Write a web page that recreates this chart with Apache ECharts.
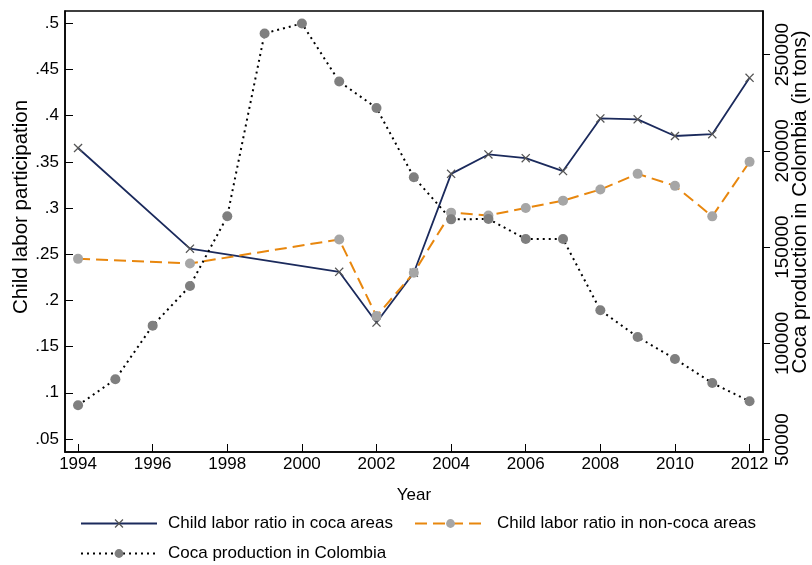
<!DOCTYPE html>
<html>
<head>
<meta charset="utf-8">
<script src="https://cdn.jsdelivr.net/npm/echarts@6/dist/echarts.min.js"></script>
<style>
  html, body { margin: 0; padding: 0; background: #fff; }
  #chart { width: 812px; height: 565px; }
</style>
</head>
<body>
<div id="chart"></div>
<script>
// Survey years with child labor estimates
const surveyYears = [1994, 1997, 2001, 2002, 2003, 2004, 2005, 2006, 2007, 2008, 2009, 2010, 2011, 2012];
const laborCocaAreas = [0.365, 0.256, 0.231, 0.176, 0.230, 0.337, 0.358, 0.354, 0.340, 0.397, 0.396, 0.378, 0.380, 0.441];
const laborNonCocaAreas = [0.245, 0.240, 0.266, 0.183, 0.230, 0.295, 0.292, 0.300, 0.308, 0.320, 0.337, 0.324, 0.291, 0.350];

// Annual coca production (tons)
const productionYears = [1994, 1995, 1996, 1997, 1998, 1999, 2000, 2001, 2002, 2003, 2004, 2005, 2006, 2007, 2008, 2009, 2010, 2011, 2012];
const cocaTons = [67800, 81300, 109200, 129800, 166000, 261000, 266200, 236000, 222300, 186300, 164400, 164600, 154200, 154200, 117200, 103300, 91900, 79400, 69900];

// Tick positions
const yearTicks = [1994, 1996, 1998, 2000, 2002, 2004, 2006, 2008, 2010, 2012];
const shareTicks = [0.05, 0.1, 0.15, 0.2, 0.25, 0.3, 0.35, 0.4, 0.45, 0.5];
const tonTicks = [50000, 100000, 150000, 200000, 250000];

// Axis titles
const leftTitle = 'Child labor participation';
const rightTitle = 'Coca production in Colombia (in tons)';

const FONT = "'Liberation Sans', Arial, sans-serif";
const NAVY = '#1b2a5c';
const ORANGE = '#e8870e';

const pairs = (xs, ys) => xs.map((x, i) => [x, ys[i]]);
const shareLabel = v => String(+v.toFixed(2)).replace(/^0/, '');
const plainLabel = v => String(v);

const xMark = 'path://M0,1 L1,0 L5,4 L9,0 L10,1 L6,5 L10,9 L9,10 L5,6 L1,10 L0,9 L4,5 Z';

const chart = echarts.init(document.getElementById('chart'), null, { renderer: 'canvas' });

const legendBase = {
  orient: 'horizontal',
  itemWidth: 76,
  itemHeight: 11,
  textStyle: { fontFamily: FONT, fontSize: 17, color: '#000', padding: [0, 0, 0, 6] },
  selectedMode: false
};

const verticalTitle = (text, x, y) => ({
  type: 'text',
  x: x, y: y,
  rotation: Math.PI / 2,
  style: {
    text: text,
    font: "20.5px 'Liberation Sans', Arial, sans-serif",
    fill: '#000',
    align: 'center',
    verticalAlign: 'middle'
  }
});

chart.setOption({
  animation: false,
  textStyle: { fontFamily: FONT },
  grid: {
    left: 65, right: 49, top: 11, bottom: 113,
    show: true, borderColor: '#000', borderWidth: 1.5,
    containLabel: false, outerBoundsMode: 'none'
  },
  legend: [
    Object.assign({}, legendBase, { data: ['Child labor ratio in coca areas'], left: 75, top: 510 }),
    Object.assign({}, legendBase, { data: ['Child labor ratio in non-coca areas'], left: 409, top: 510, itemWidth: 71 }),
    Object.assign({}, legendBase, { data: ['Coca production in Colombia'], left: 75, top: 540 })
  ],
  graphic: [
    verticalTitle(leftTitle, 21, 207),
    verticalTitle(rightTitle, 800, 202)
  ],
  xAxis: {
    type: 'value',
    min: 1993.65, max: 2012.36,
    name: 'Year', nameLocation: 'middle', nameGap: 35,
    nameTextStyle: { fontFamily: FONT, fontSize: 17, color: '#000' },
    axisLine: { show: true, lineStyle: { color: '#000', width: 1.5 } },
    axisTick: { show: true, inside: true, length: 8, customValues: yearTicks, lineStyle: { color: '#000', width: 1 } },
    axisLabel: { customValues: yearTicks, formatter: plainLabel, fontFamily: FONT, fontSize: 17, color: '#000', margin: 4 },
    splitLine: { show: false }
  },
  yAxis: [
    {
      type: 'value', position: 'left',
      min: 0.0359, max: 0.5133,
      axisLine: { show: true, lineStyle: { color: '#000', width: 1.5 } },
      axisTick: { show: true, inside: true, length: 8, customValues: shareTicks, lineStyle: { color: '#000', width: 1 } },
      axisLabel: { customValues: shareTicks, formatter: shareLabel, fontFamily: FONT, fontSize: 17, color: '#000', margin: 6 },
      splitLine: { show: false }
    },
    {
      type: 'value', position: 'right',
      min: 43550, max: 272650,
      axisLine: { show: true, lineStyle: { color: '#000', width: 1.5 } },
      axisTick: { show: true, inside: false, length: 7, customValues: tonTicks, lineStyle: { color: '#000', width: 1 } },
      axisLabel: { customValues: tonTicks, formatter: plainLabel, rotate: 90, fontFamily: FONT, fontSize: 19, color: '#000', margin: 10 },
      splitLine: { show: false }
    }
  ],
  series: [
    {
      name: 'Child labor ratio in coca areas',
      type: 'line',
      yAxisIndex: 0,
      data: pairs(surveyYears, laborCocaAreas),
      symbol: xMark, symbolSize: 9, showAllSymbol: true,
      itemStyle: { color: '#555' },
      lineStyle: { color: NAVY, width: 1.8 }
    },
    {
      name: 'Child labor ratio in non-coca areas',
      type: 'line',
      yAxisIndex: 0,
      data: pairs(surveyYears, laborNonCocaAreas),
      symbol: 'circle', symbolSize: 10, showAllSymbol: true,
      itemStyle: { color: '#a6a6a6' },
      lineStyle: { color: ORANGE, width: 2, type: [12, 6] }
    },
    {
      name: 'Coca production in Colombia',
      type: 'line',
      yAxisIndex: 1,
      data: pairs(productionYears, cocaTons),
      symbol: 'circle', symbolSize: 10, showAllSymbol: true,
      itemStyle: { color: '#7f7f7f' },
      lineStyle: { color: '#000', width: 2, type: [2, 4] }
    }
  ]
});
</script>
</body>
</html>
